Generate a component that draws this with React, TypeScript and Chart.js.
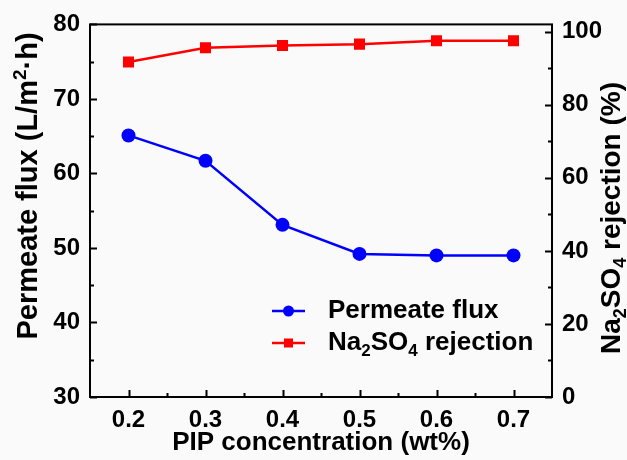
import React, { useEffect, useRef } from "react";
import { Chart, registerables } from "chart.js";

Chart.register(...registerables);

const concentrations = [0.2, 0.3, 0.4, 0.5, 0.6, 0.7];
const permeateFlux = [65.1, 61.7, 53.1, 49.2, 49.0, 49.0];
const na2so4Rejection = [91.7, 95.6, 96.2, 96.6, 97.5, 97.5];

const xTicks = [0.2, 0.3, 0.4, 0.5, 0.6, 0.7];
const xMinorTicks = [0.25, 0.35, 0.45, 0.55, 0.65];
const leftTicks = [30, 40, 50, 60, 70, 80];
const leftMinorTicks = [35, 45, 55, 65, 75];
const rightTicks = [0, 20, 40, 60, 80, 100];
const rightMinorTicks = [10, 30, 50, 70, 90];

const FONT = "'Liberation Sans', Arial, Helvetica, sans-serif";
const BLUE = "#0000ff";
const RED = "#ff0000";

type Seg = { t: string; k?: "sub" | "sup" };

function segWidth(ctx: CanvasRenderingContext2D, segs: Seg[], size: number) {
  let w = 0;
  for (const s of segs) {
    ctx.font = `bold ${s.k ? Math.round(size * 0.65) : size}px ${FONT}`;
    w += ctx.measureText(s.t).width;
  }
  return w;
}

function drawSegs(ctx: CanvasRenderingContext2D, segs: Seg[], x: number, y: number, size: number) {
  let cx = x;
  ctx.textBaseline = "middle";
  ctx.textAlign = "left";
  for (const s of segs) {
    const fs = s.k ? Math.round(size * 0.65) : size;
    ctx.font = `bold ${fs}px ${FONT}`;
    const dy = s.k === "sub" ? size * 0.32 : s.k === "sup" ? -size * 0.3 : 0;
    ctx.fillText(s.t, cx, y + dy);
    cx += ctx.measureText(s.t).width;
  }
}

const decorPlugin = {
  id: "decor",
  beforeDraw(chart: any) {
    const ctx = chart.ctx;
    ctx.save();
    ctx.fillStyle = "#fafafa";
    ctx.fillRect(0, 0, chart.width, chart.height);
    ctx.restore();
  },
  afterDraw(chart: any) {
    const ctx: CanvasRenderingContext2D = chart.ctx;
    const a = chart.chartArea;
    const xs = chart.scales.x;
    const yl = chart.scales.yLeft;
    const yr = chart.scales.yRight;
    ctx.save();
    ctx.strokeStyle = "#000";
    ctx.lineWidth = 2;
    ctx.strokeRect(a.left, a.top, a.right - a.left, a.bottom - a.top);
    ctx.beginPath();
    const major = 7;
    const minor = 4;
    for (const v of xTicks) {
      const p = Math.round(xs.getPixelForValue(v)) + 0.5;
      ctx.moveTo(p, a.bottom);
      ctx.lineTo(p, a.bottom - major);
    }
    for (const v of xMinorTicks) {
      const p = Math.round(xs.getPixelForValue(v)) + 0.5;
      ctx.moveTo(p, a.bottom);
      ctx.lineTo(p, a.bottom - minor);
    }
    for (const v of leftTicks) {
      const p = Math.round(yl.getPixelForValue(v)) + 0.5;
      ctx.moveTo(a.left, p);
      ctx.lineTo(a.left + major, p);
    }
    for (const v of leftMinorTicks) {
      const p = Math.round(yl.getPixelForValue(v)) + 0.5;
      ctx.moveTo(a.left, p);
      ctx.lineTo(a.left + minor, p);
    }
    for (const v of rightTicks) {
      const p = Math.round(yr.getPixelForValue(v)) + 0.5;
      ctx.moveTo(a.right, p);
      ctx.lineTo(a.right - major, p);
    }
    for (const v of rightMinorTicks) {
      const p = Math.round(yr.getPixelForValue(v)) + 0.5;
      ctx.moveTo(a.right, p);
      ctx.lineTo(a.right - minor, p);
    }
    ctx.stroke();

    // y axis titles
    ctx.fillStyle = "#000";
    const leftTitle: Seg[] = [{ t: "Permeate flux (L/m" }, { t: "2", k: "sup" }, { t: "·h)" }];
    ctx.save();
    ctx.translate(29, 186);
    ctx.rotate(-Math.PI / 2);
    drawSegs(ctx, leftTitle, -segWidth(ctx, leftTitle, 29) / 2, 0, 29);
    ctx.restore();

    const rightTitle: Seg[] = [
      { t: "Na" },
      { t: "2", k: "sub" },
      { t: "SO" },
      { t: "4", k: "sub" },
      { t: " rejection (%)" },
    ];
    ctx.save();
    ctx.translate(612, 218);
    ctx.rotate(-Math.PI / 2);
    drawSegs(ctx, rightTitle, -segWidth(ctx, rightTitle, 28) / 2, 0, 28);
    ctx.restore();

    // legend
    const lSize = 26;
    const items = [
      { ds: chart.data.datasets[0], segs: [{ t: "Permeate flux" }] as Seg[], y: 311 },
      {
        ds: chart.data.datasets[1],
        segs: [{ t: "Na" }, { t: "2", k: "sub" }, { t: "SO" }, { t: "4", k: "sub" }, { t: " rejection" }] as Seg[],
        y: 343,
      },
    ];
    for (const it of items) {
      const color = it.ds.borderColor;
      ctx.strokeStyle = color;
      ctx.fillStyle = color;
      ctx.lineWidth = 2.5;
      ctx.beginPath();
      ctx.moveTo(272, it.y);
      ctx.lineTo(305, it.y);
      ctx.stroke();
      if (it.ds.pointStyle === "rect") {
        ctx.fillRect(288.5 - 4.5, it.y - 4.5, 9, 9);
      } else {
        ctx.beginPath();
        ctx.arc(288.5, it.y, 5.5, 0, Math.PI * 2);
        ctx.fill();
      }
      ctx.fillStyle = "#000";
      drawSegs(ctx, it.segs, 328, it.y, lSize);
    }
    ctx.restore();
  },
};

export default function App() {
  const ref = useRef<HTMLCanvasElement>(null);
  useEffect(() => {
    if (!ref.current) return;
    const tickFont = { family: FONT, size: 24, weight: "bold" as const };
    const chart = new Chart(ref.current, {
      type: "line",
      data: {
        datasets: [
          {
            label: "Permeate flux",
            data: concentrations.map((c, i) => ({ x: c, y: permeateFlux[i] })),
            yAxisID: "yLeft",
            borderColor: BLUE,
            backgroundColor: BLUE,
            borderWidth: 2.5,
            pointStyle: "circle",
            pointRadius: 7,
            pointBorderWidth: 0,
            tension: 0,
          },
          {
            label: "Na2SO4 rejection",
            data: concentrations.map((c, i) => ({ x: c, y: na2so4Rejection[i] })),
            yAxisID: "yRight",
            borderColor: RED,
            backgroundColor: RED,
            borderWidth: 2.5,
            pointStyle: "rect",
            pointRadius: 7.8,
            pointBorderWidth: 0,
            tension: 0,
          },
        ],
      },
      options: {
        responsive: false,
        animation: false,
        devicePixelRatio: 1,
        layout: { padding: { top: 24, left: 0, right: 0, bottom: 0 } },
        plugins: { legend: { display: false }, tooltip: { enabled: false } },
        scales: {
          x: {
            type: "linear",
            min: 0.15,
            max: 0.75,
            grid: { display: false, drawTicks: false },
            border: { display: false },
            afterBuildTicks: (s: any) => {
              s.ticks = xTicks.map((v) => ({ value: v }));
            },
            afterFit: (s: any) => {
              s.height = 63;
            },
            ticks: {
              font: tickFont,
              color: "#000",
              padding: 9,
              maxRotation: 0,
              callback: (v: any) => Number(v).toFixed(1),
            },
            title: {
              display: true,
              text: "PIP concentration (wt%)",
              font: { family: FONT, size: 26, weight: "bold" },
              color: "#000",
              padding: { top: 0, bottom: 2 },
            },
          },
          yLeft: {
            type: "linear",
            position: "left",
            min: 30,
            max: 80,
            grid: { display: false, drawTicks: false },
            border: { display: false },
            afterBuildTicks: (s: any) => {
              s.ticks = leftTicks.map((v) => ({ value: v }));
            },
            afterFit: (s: any) => {
              s.width = 90;
            },
            ticks: { font: tickFont, color: "#000", padding: 10 },
          },
          yRight: {
            type: "linear",
            position: "right",
            min: 0,
            max: 102,
            grid: { display: false, drawTicks: false },
            border: { display: false },
            afterBuildTicks: (s: any) => {
              s.ticks = rightTicks.map((v) => ({ value: v }));
            },
            afterFit: (s: any) => {
              s.width = 75;
            },
            ticks: { font: tickFont, color: "#000", padding: 10 },
          },
        },
      },
      plugins: [decorPlugin],
    });
    return () => chart.destroy();
  }, []);
  return (
    <div style={{ position: "absolute", left: 0, top: 0, width: 627, height: 460, background: "#fafafa" }}>
      <canvas ref={ref} width={627} height={460} />
    </div>
  );
}
